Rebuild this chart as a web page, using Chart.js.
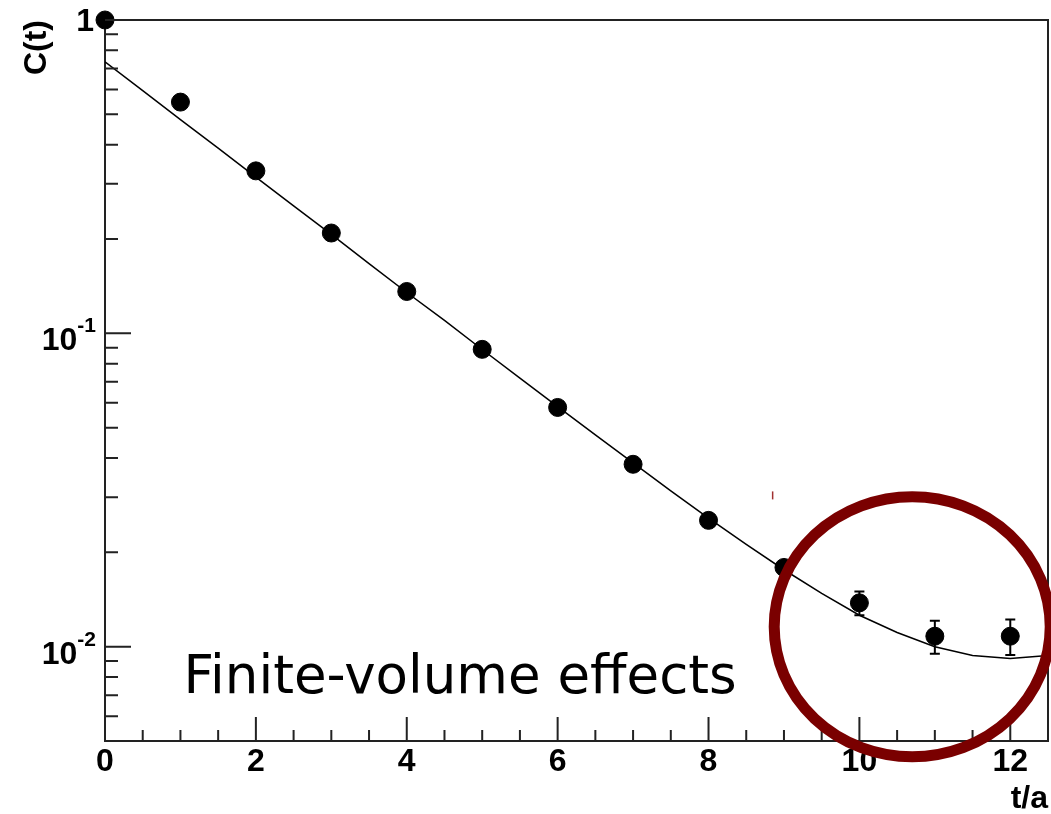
<!DOCTYPE html>
<html>
<head>
<meta charset="utf-8">
<script src="https://cdn.jsdelivr.net/npm/chart.js@4"></script>
<style>
	html, body { margin: 0; padding: 0; background: #fff; }
	canvas { display: block; }
</style>
</head>
<body>
<canvas id="corr-chart" width="1051" height="814"></canvas>
<script>
// measured correlator C(t) with errors
const tValues = [0, 1, 2, 3, 4, 5, 6, 7, 8, 9, 10, 11, 12]
const cValues = [1.0, 0.547, 0.330, 0.209, 0.136, 0.0889, 0.0580, 0.0382, 0.0253, 0.0179, 0.0138, 0.0108, 0.0108]
const cErrors = [0, 0, 0, 0, 0, 0, 0, 0, 0, 0.0008, 0.0012, 0.0013, 0.0014]

// fit curve
const fitT = [0, 0.5, 1, 1.5, 2, 2.5, 3, 3.5, 4, 4.5, 5, 5.5, 6, 6.5, 7, 7.5, 8, 8.5, 9, 9.5, 10, 10.5, 11, 11.5, 12, 12.5]
const fitC = [0.735, 0.595, 0.481, 0.390, 0.315, 0.255, 0.207, 0.167, 0.135, 0.110, 0.0888, 0.0720, 0.0584, 0.0474, 0.0386, 0.0314, 0.0257, 0.0212, 0.0176, 0.0148, 0.0126, 0.0111, 0.0100, 0.00937, 0.00916, 0.00937]

// y axis decade labels
const yDecades = [1, 0.1, 0.01]
const yDecadeLabels = [['1', ''], ['10', '-1'], ['10', '-2']]
const yMinorTicks = [0.006, 0.007, 0.008, 0.009, 0.02, 0.03, 0.04, 0.05, 0.06, 0.07, 0.08, 0.09, 0.2, 0.3, 0.4, 0.5, 0.6, 0.7, 0.8, 0.9]

const annotationText = 'Finite-volume effects'

const AXIS_FONT = 'Liberation Sans, Arial, sans-serif'

const frameAndTicks = {
	id: 'frameAndTicks',
	beforeDatasetsDraw(chart) {
		const ctx = chart.ctx
		const xs = chart.scales.x, ys = chart.scales.y
		ctx.save()
		ctx.strokeStyle = '#000'
		ctx.lineWidth = 2
		tValues.forEach((t, i) => {
			const e = cErrors[i]
			if (!e) return
			const x = xs.getPixelForValue(t)
			const y1 = ys.getPixelForValue(cValues[i] + e)
			const y2 = ys.getPixelForValue(cValues[i] - e)
			ctx.beginPath()
			ctx.moveTo(x, y1); ctx.lineTo(x, y2)
			ctx.moveTo(x - 5, y1); ctx.lineTo(x + 5, y1)
			ctx.moveTo(x - 5, y2); ctx.lineTo(x + 5, y2)
			ctx.stroke()
		})
		ctx.restore()
	},
	afterDraw(chart) {
		const ctx = chart.ctx
		const { left, right, top, bottom } = chart.chartArea
		const xs = chart.scales.x, ys = chart.scales.y
		ctx.save()
		ctx.strokeStyle = '#222'
		ctx.lineWidth = 2
		ctx.beginPath()
		ctx.moveTo(left, top); ctx.lineTo(right, top); ctx.lineTo(right, bottom)
		ctx.stroke()

		// inward ticks
		ctx.lineWidth = 2
		ctx.beginPath()
		for (let v = 0; v <= 12.5; v += 0.5) {
			const x = xs.getPixelForValue(v)
			const len = v % 2 === 0 ? 24 : 11
			ctx.moveTo(x, bottom); ctx.lineTo(x, bottom - len)
		}
		yDecades.forEach(v => {
			const y = ys.getPixelForValue(v)
			ctx.moveTo(left, y); ctx.lineTo(left + 26, y)
		})
		yMinorTicks.forEach(v => {
			const y = ys.getPixelForValue(v)
			ctx.moveTo(left, y); ctx.lineTo(left + 13, y)
		})
		ctx.stroke()

		// y decade labels with superscripts
		ctx.fillStyle = '#000'
		ctx.textBaseline = 'alphabetic'
		ctx.textAlign = 'right'
		yDecades.forEach((v, i) => {
			const y = ys.getPixelForValue(v)
			const [base, exp] = yDecadeLabels[i]
			const xr = left - 9
			if (!exp) {
				ctx.font = 'bold 32px ' + AXIS_FONT
				ctx.fillText(base, xr - 2, y + 11)
				return
			}
			ctx.font = 'bold 21px ' + AXIS_FONT
			const w = ctx.measureText(exp).width
			ctx.fillText(exp, xr, y - 1)
			ctx.font = 'bold 32px ' + AXIS_FONT
			ctx.fillText(base, xr - w, y + 17)
		})

		// annotation
		ctx.font = '53px "DejaVu Sans", sans-serif'
		ctx.textAlign = 'left'
		ctx.fillText(annotationText, xs.getPixelForValue(1.04), ys.getPixelForValue(0.00713))

		ctx.strokeStyle = '#7a0000'
		ctx.lineWidth = 11
		ctx.beginPath()
		ctx.ellipse(xs.getPixelForValue(10.7), ys.getPixelForValue(0.01158), 138, 130, 0, 0, Math.PI * 2)
		ctx.stroke()

		ctx.lineWidth = 1.5
		ctx.strokeStyle = '#a03030'
		ctx.beginPath()
		const mx = xs.getPixelForValue(8.85), my = ys.getPixelForValue(0.0313)
		ctx.moveTo(mx, my); ctx.lineTo(mx, my + 8)
		ctx.stroke()
		ctx.restore()
	}
}

new Chart(document.getElementById('corr-chart').getContext('2d'), {
	type: 'scatter',
	data: {
		datasets: [{
			label: 'C(t)',
			data: tValues.map((t, i) => ({ x: t, y: cValues[i] })),
			backgroundColor: '#000',
			borderColor: '#000',
			pointRadius: 9,
			pointHoverRadius: 9,
			clip: false,
			order: 0
		}, {
			label: 'fit',
			type: 'line',
			data: fitT.map((t, i) => ({ x: t, y: fitC[i] })),
			borderColor: '#000',
			borderWidth: 1.5,
			pointRadius: 0,
			tension: 0,
			fill: false,
			order: 1
		}]
	},
	options: {
		responsive: false,
		animation: false,
		devicePixelRatio: 1,
		layout: { autoPadding: false, padding: { top: 20, right: 3, left: 0, bottom: 0 } },
		plugins: {
			legend: { display: false },
			tooltip: { enabled: false }
		},
		scales: {
			x: {
				type: 'linear',
				min: 0,
				max: 12.5,
				grid: { display: false, drawTicks: false },
				border: { display: true, color: '#222', width: 2 },
				ticks: {
					stepSize: 2,
					includeBounds: false,
					padding: 2,
					color: '#000',
					font: { family: AXIS_FONT, size: 32, weight: 'bold' }
				},
				title: {
					display: true,
					text: 't/a',
					align: 'end',
					color: '#000',
					font: { family: AXIS_FONT, size: 32, weight: 'bold', lineHeight: 1 },
					padding: { top: 0, bottom: -1 }
				},
				afterFit(scale) {
					scale.height = 73
					scale.paddingLeft = 0
					scale.paddingRight = 0
				}
			},
			y: {
				type: 'logarithmic',
				min: 0.005,
				max: 1,
				grid: { display: false, drawTicks: false },
				border: { display: true, color: '#222', width: 2 },
				ticks: { display: false },
				title: {
					display: true,
					text: 'C(t)',
					align: 'end',
					color: '#000',
					font: { family: AXIS_FONT, size: 32, weight: 'bold', lineHeight: 1 },
					padding: { top: 21, bottom: 0 }
				},
				afterFit(scale) { scale.width = 105 }
			}
		}
	},
	plugins: [frameAndTicks]
})
</script>
</body>
</html>
